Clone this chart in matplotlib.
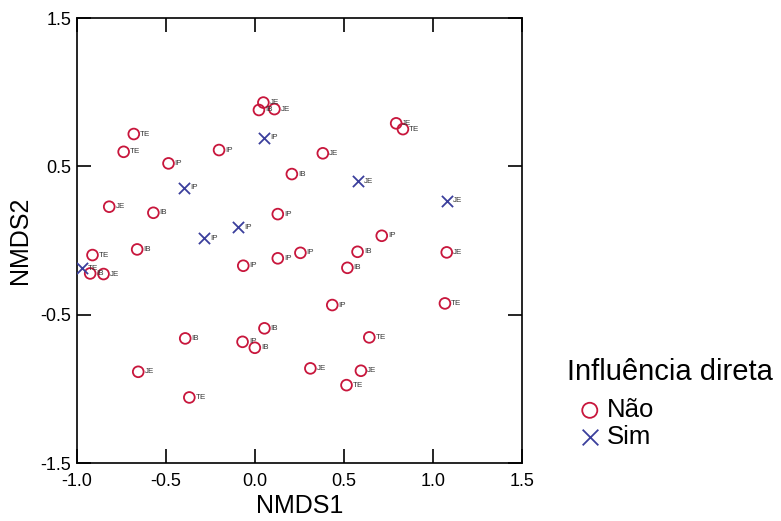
import matplotlib
matplotlib.use("Agg")
import matplotlib.pyplot as plt

plt.rcParams['font.family'] = ['Liberation Sans', 'DejaVu Sans']

# Não (circles)
nao_x = [0.047, 0.022, 0.109, -0.681, -0.738, -0.486, -0.202, -0.819, 0.793, 0.831,
         0.381, 0.207, -0.571, 0.128, -0.913, -0.662, -0.926, -0.851, -0.066, 0.128,
         0.255, 0.712, 0.576, 0.519, 1.077, 0.434, 1.067, -0.392, -0.070, -0.001,
         0.053, -0.656, -0.369, 0.642, 0.311, 0.595, 0.514]
nao_y = [0.930, 0.880, 0.886, 0.718, 0.598, 0.520, 0.610, 0.228, 0.790, 0.751,
         0.588, 0.448, 0.187, 0.178, -0.098, -0.060, -0.222, -0.226, -0.170, -0.120,
         -0.083, 0.032, -0.076, -0.184, -0.080, -0.435, -0.424, -0.660, -0.683, -0.723,
         -0.592, -0.885, -1.058, -0.653, -0.862, -0.878, -0.975]
nao_lab = ["JE", "IB", "JE", "TE", "TE", "IP", "IP", "JE", "JE", "TE",
           "JE", "IB", "IB", "IP", "TE", "IB", "IB", "JE", "IP", "IP",
           "IP", "IP", "IB", "IB", "JE", "IP", "TE", "IB", "IP", "IB",
           "IB", "JE", "TE", "TE", "JE", "JE", "TE"]

# Sim (crosses)
sim_x = [-0.401, 0.053, 0.578, 1.077, -0.095, -0.284, -0.973]
sim_y = [0.356, 0.693, 0.401, 0.268, 0.089, 0.014, -0.188]
sim_lab = ["IP", "IP", "JE", "JE", "IP", "IP", "TE"]

red = "#c8163c"
blue = "#3b3f9c"

fig = plt.figure(figsize=(7.81, 5.21), dpi=100)
ax = fig.add_axes([0.0986, 0.1113, 0.5698, 0.8541])

ax.scatter(nao_x, nao_y, s=60, facecolors='none', edgecolors=red, linewidths=1.3,
           marker='o', label='Não', zorder=3)
ax.scatter(sim_x, sim_y, s=65, c=blue, linewidths=1.3, marker='x', label='Sim', zorder=3)

for x, y, t in zip(nao_x, nao_y, nao_lab):
    ax.text(x + 0.035, y, t, fontsize=5.8, va='center', ha='left', color='#333333')
for x, y, t in zip(sim_x, sim_y, sim_lab):
    ax.text(x + 0.035, y, t, fontsize=5.8, va='center', ha='left', color='#333333')

ax.set_xlim(-1.0, 1.5)
ax.set_ylim(-1.5, 1.5)
ax.set_xticks([-1.0, -0.5, 0.0, 0.5, 1.0, 1.5])
ax.set_xticklabels(["-1.0", "-0.5", "0.0", "0.5", "1.0", "1.5"])
ax.set_yticks([-1.5, -0.5, 0.5, 1.5])
ax.set_yticklabels(["-1.5", "-0.5", "0.5", "1.5"])
ax.tick_params(direction='in', length=10, width=1.2, labelsize=13,
               top=True, right=True)
ax.tick_params(axis='x', pad=7)
ax.tick_params(axis='y', pad=4)
for sp in ax.spines.values():
    sp.set_linewidth(1.2)

ax.set_xlabel("NMDS1", fontsize=18, labelpad=3)
ax.set_ylabel("NMDS2", fontsize=18, labelpad=6)

fig.text(0.726, 0.286, "Influência direta", fontsize=21, va='center', ha='left')
leg = fig.legend(loc='upper left', bbox_to_anchor=(0.742, 0.236), frameon=False,
                 fontsize=18.5, handletextpad=0.25, labelspacing=0.12,
                 borderaxespad=0, borderpad=0, handlelength=0.8, markerscale=1.4)

fig.savefig("out.png", dpi=100)
